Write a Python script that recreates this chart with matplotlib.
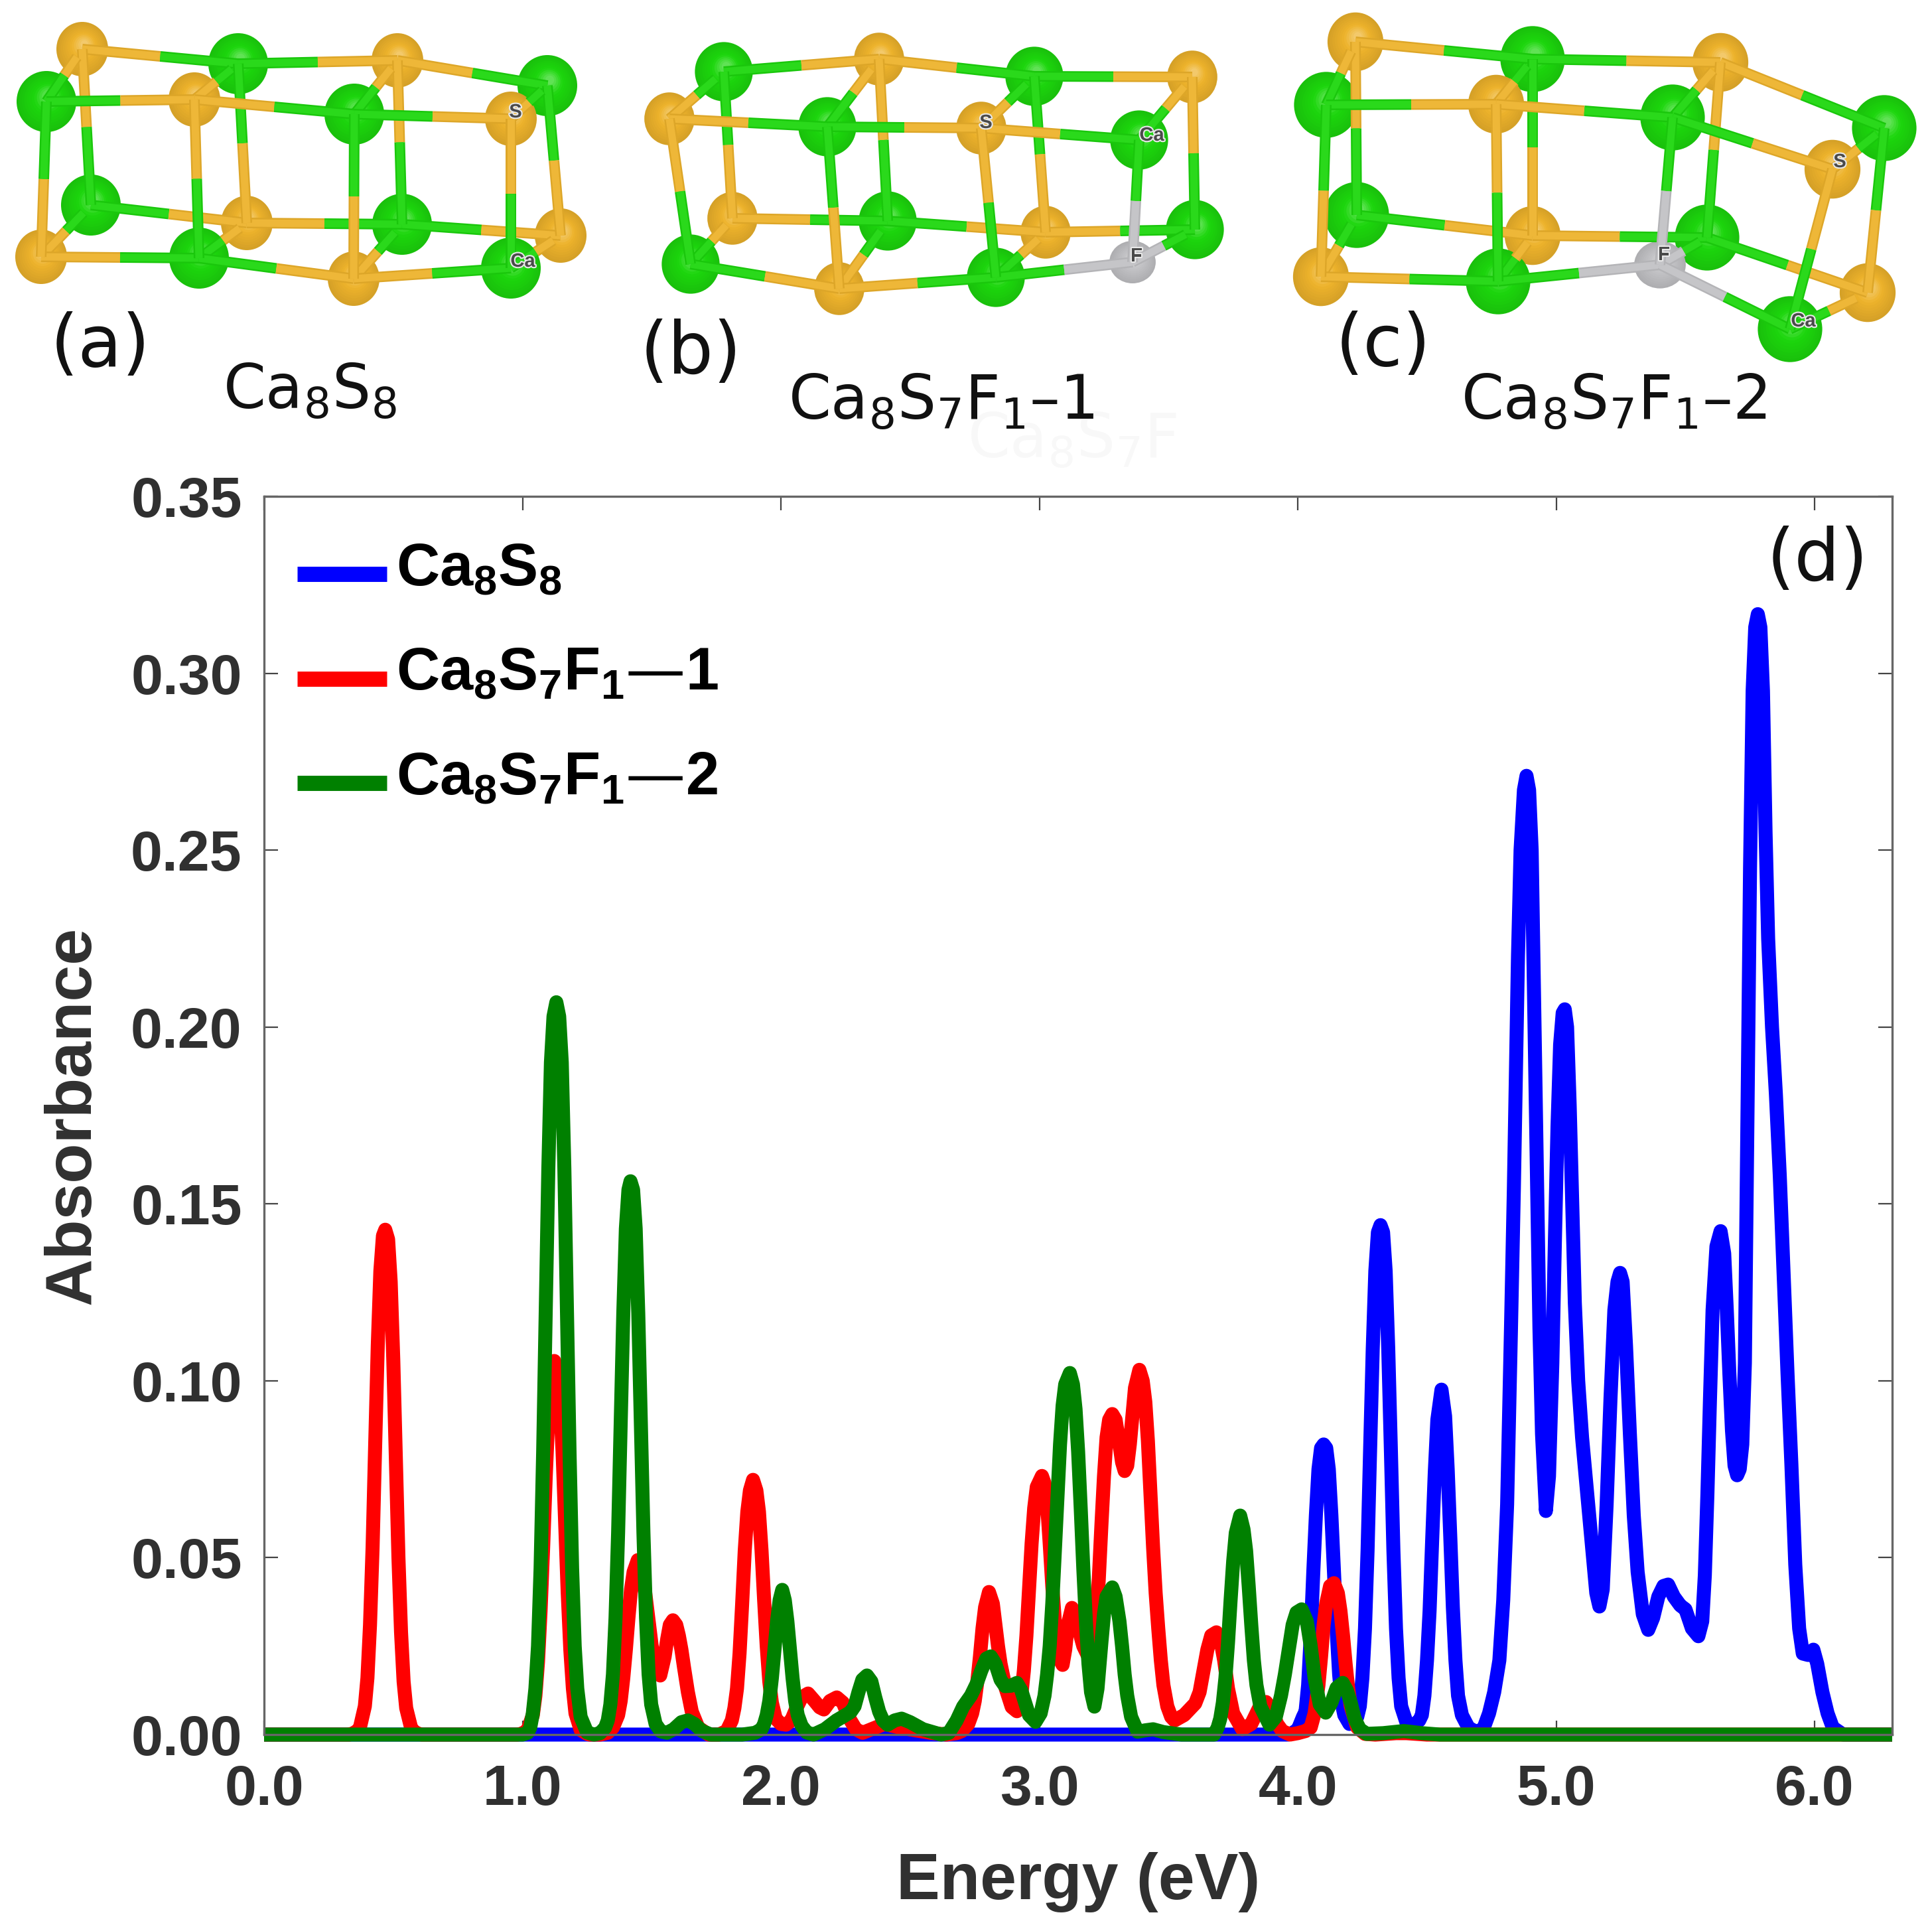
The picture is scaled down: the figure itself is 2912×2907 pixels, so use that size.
import matplotlib
matplotlib.use("Agg")
import matplotlib.pyplot as plt
from matplotlib.patches import Ellipse
from matplotlib.font_manager import FontProperties
import matplotlib.patheffects as pe

# ---- absorbance spectra, (energy, absorbance)
blue_pts = [(0, 0), (3.96, 0), (3.98, .0005), (4.00, .0014), (4.02, .005), (4.03, .0065), (4.04, .014), (4.05, .028), (4.06, .046), (4.07, .062),
            (4.08, .075), (4.09, .081), (4.10, .082), (4.11, .081), (4.12, .075), (4.13, .062), (4.14, .046), (4.15, .03), (4.16, .017), (4.17, .009),
            (4.18, .0055), (4.20, .003), (4.22, .0035), (4.23, .005), (4.24, .008), (4.25, .016), (4.26, .03), (4.27, .052), (4.28, .081), (4.29, .109),
            (4.30, .131), (4.31, .142), (4.32, .144), (4.33, .142), (4.34, .131), (4.35, .109), (4.36, .081), (4.37, .052), (4.38, .03), (4.39, .016),
            (4.40, .008), (4.42, .0035), (4.447, .0026), (4.47, .004), (4.48, .0055), (4.49, .011), (4.50, .021), (4.51, .035), (4.52, .055), (4.53, .074),
            (4.54, .089), (4.556, .0975), (4.57, .09), (4.58, .075), (4.59, .056), (4.60, .036), (4.61, .021), (4.62, .011), (4.635, .0055), (4.66, .002),
            (4.695, .0005), (4.72, .002), (4.74, .006), (4.76, .012), (4.78, .021), (4.795, .038), (4.81, .065), (4.825, .115), (4.836, .154), (4.852, .22),
            (4.862, .25), (4.875, .267), (4.885, .271), (4.895, .267), (4.905, .25), (4.915, .205), (4.925, .16), (4.935, .115), (4.945, .085), (4.96, .0632),
            (4.972, .073), (4.985, .105), (4.995, .14), (5.005, .172), (5.015, .195), (5.025, .204), (5.033, .205), (5.042, .2), (5.052, .178), (5.062, .15),
            (5.072, .122), (5.085, .1), (5.10, .084), (5.12, .068), (5.14, .052), (5.155, .04), (5.167, .0362), (5.18, .041), (5.195, .065), (5.21, .095),
            (5.225, .12), (5.237, .128), (5.247, .1305), (5.257, .128), (5.27, .11), (5.285, .085), (5.30, .062), (5.315, .046), (5.335, .034), (5.356, .0296),
            (5.375, .033), (5.395, .039), (5.415, .042), (5.433, .0424), (5.455, .039), (5.48, .0365), (5.50, .0354), (5.525, .03), (5.55, .0278), (5.565, .032),
            (5.575, .045), (5.585, .068), (5.595, .095), (5.605, .12), (5.62, .138), (5.636, .1423), (5.65, .136), (5.66, .12), (5.67, .102), (5.68, .086),
            (5.69, .076), (5.70, .0733), (5.71, .075), (5.72, .082), (5.73, .105), (5.74, .175), (5.75, .245), (5.76, .295), (5.77, .313), (5.78, .3167),
            (5.79, .313), (5.80, .295), (5.81, .255), (5.82, .225), (5.835, .2), (5.85, .181), (5.865, .158), (5.88, .13), (5.895, .102), (5.91, .0763),
            (5.925, .048), (5.94, .03), (5.954, .0229), (5.975, .0225), (5.995, .024), (6.01, .02), (6.03, .012), (6.05, .006), (6.07, .002), (6.11, 0), (6.3, 0)]

red_pts = [(0, 0), (.33, 0), (.35, .0005), (.37, .0017), (.39, .008), (.40, .016), (.41, .031), (.42, .053), (.43, .082), (.44, .11),
           (.45, .131), (.46, .141), (.469, .1427), (.48, .14), (.49, .128), (.50, .106), (.51, .078), (.52, .05), (.53, .029), (.54, .015),
           (.55, .0075), (.57, .0016), (.59, .0004), (.61, 0), (.98, 0), (1.0, .0003), (1.02, .0013), (1.04, .0055), (1.05, .011), (1.06, .0205),
           (1.07, .035), (1.08, .053), (1.09, .073), (1.10, .09), (1.11, .101), (1.123, .1056), (1.135, .103), (1.145, .095), (1.155, .08), (1.165, .06),
           (1.175, .04), (1.185, .024), (1.195, .013), (1.205, .006), (1.225, .0013), (1.25, .0002), (1.26, 0), (1.3, 0), (1.33, .0005), (1.35, .002),
           (1.37, .0055), (1.38, .0095), (1.39, .016), (1.40, .024), (1.41, .033), (1.42, .041), (1.43, .046), (1.446, .0493), (1.46, .047), (1.47, .043),
           (1.48, .037), (1.49, .031), (1.50, .025), (1.515, .019), (1.533, .0167), (1.55, .022), (1.56, .027), (1.57, .031), (1.582, .0323), (1.595, .031),
           (1.605, .028), (1.615, .024), (1.625, .019), (1.64, .012), (1.655, .0065), (1.68, .002), (1.72, 0), (1.76, 0), (1.79, .001), (1.81, .004),
           (1.82, .0075), (1.83, .013), (1.84, .023), (1.85, .037), (1.86, .052), (1.87, .063), (1.88, .069), (1.892, .072), (1.905, .069), (1.915, .063),
           (1.925, .052), (1.935, .038), (1.945, .025), (1.955, .015), (1.965, .009), (1.98, .0045), (2.0, .003), (2.02, .0028), (2.04, .004), (2.06, .0075),
           (2.08, .0105), (2.105, .0116), (2.13, .0095), (2.15, .0077), (2.166, .0071), (2.19, .0095), (2.216, .0105), (2.24, .009), (2.265, .0045), (2.29, .0015),
           (2.316, .0005), (2.35, .0015), (2.40, .003), (2.46, .002), (2.52, .0012), (2.58, .0005), (2.64, 0), (2.68, .0004), (2.70, .001), (2.725, .003),
           (2.74, .006), (2.75, .0095), (2.76, .015), (2.77, .022), (2.78, .03), (2.79, .036), (2.805, .0403), (2.82, .037), (2.83, .031), (2.84, .025),
           (2.85, .02), (2.87, .013), (2.893, .0078), (2.913, .0066), (2.93, .011), (2.94, .018), (2.95, .028), (2.96, .041), (2.97, .054), (2.98, .064),
           (2.99, .07), (3.01, .0731), (3.02, .071), (3.03, .065), (3.04, .054), (3.05, .042), (3.06, .032), (3.07, .025), (3.08, .021), (3.09, .0197),
           (3.10, .024), (3.11, .031), (3.126, .0358), (3.14, .034), (3.155, .029), (3.17, .025), (3.19, .022), (3.205, .023), (3.22, .032), (3.23, .044),
           (3.24, .059), (3.25, .073), (3.26, .084), (3.27, .089), (3.282, .0906), (3.295, .089), (3.31, .082), (3.32, .077), (3.33, .0745), (3.34, .076),
           (3.35, .082), (3.36, .09), (3.37, .098), (3.387, .1031), (3.40, .1), (3.41, .094), (3.42, .083), (3.43, .068), (3.44, .053), (3.45, .04),
           (3.46, .03), (3.47, .021), (3.48, .014), (3.495, .008), (3.51, .005), (3.523, .004), (3.56, .0055), (3.603, .0088), (3.62, .012), (3.635, .018),
           (3.65, .024), (3.665, .028), (3.685, .0289), (3.70, .027), (3.715, .021), (3.73, .013), (3.75, .006), (3.785, .0015), (3.82, .003), (3.85, .0075),
           (3.877, .0092), (3.90, .007), (3.92, .003), (3.94, .001), (3.97, 0), (4.0, .0004), (4.03, .001), (4.05, .002), (4.065, .006), (4.08, .014),
           (4.09, .022), (4.10, .031), (4.11, .037), (4.125, .042), (4.14, .0428), (4.155, .04), (4.165, .035), (4.175, .028), (4.185, .02), (4.195, .013),
           (4.205, .008), (4.23, .002), (4.26, .0002), (4.3, 0), (4.38, .0004), (4.42, .0004), (4.5, 0), (6.3, 0)]

green_pts = [(0, 0), (1.0, 0), (1.02, .0005), (1.03, .002), (1.04, .006), (1.05, .013), (1.06, .025), (1.07, .047), (1.08, .08), (1.09, .12),
             (1.10, .16), (1.11, .19), (1.12, .203), (1.131, .207), (1.142, .203), (1.152, .19), (1.162, .16), (1.172, .12), (1.182, .08), (1.192, .047),
             (1.202, .025), (1.212, .013), (1.225, .005), (1.25, .0006), (1.277, 0), (1.30, .0004), (1.32, .002), (1.33, .004), (1.34, .0085), (1.35, .017),
             (1.36, .033), (1.37, .057), (1.38, .088), (1.39, .119), (1.40, .143), (1.41, .154), (1.418, .1564), (1.428, .154), (1.438, .143), (1.448, .119),
             (1.458, .088), (1.468, .057), (1.478, .033), (1.488, .017), (1.498, .0085), (1.515, .003), (1.535, .0009), (1.559, .0005), (1.585, .0015), (1.615, .0035),
             (1.64, .004), (1.665, .003), (1.695, .001), (1.73, 0), (1.85, 0), (1.90, .0005), (1.925, .0015), (1.935, .003), (1.945, .0055), (1.955, .0095),
             (1.965, .016), (1.975, .024), (1.985, .032), (1.995, .038), (2.005, .0409), (2.015, .038), (2.025, .032), (2.035, .024), (2.045, .016), (2.055, .0095),
             (2.065, .0055), (2.08, .0025), (2.10, .0006), (2.126, 0), (2.17, .0015), (2.215, .004), (2.25, .0055), (2.27, .0064), (2.285, .008), (2.30, .012),
             (2.315, .0155), (2.333, .0167), (2.35, .015), (2.365, .0105), (2.38, .0065), (2.395, .004), (2.413, .0028), (2.44, .004), (2.467, .0045), (2.50, .0035),
             (2.55, .0015), (2.62, 0), (2.65, .0005), (2.68, .004), (2.705, .0079), (2.735, .011), (2.757, .0143), (2.775, .018), (2.795, .0215), (2.812, .0221),
             (2.83, .02), (2.85, .0155), (2.867, .0137), (2.89, .0138), (2.913, .0146), (2.93, .0125), (2.945, .009), (2.96, .0055), (2.985, .0036), (3.005, .006),
             (3.02, .011), (3.03, .017), (3.04, .025), (3.05, .037), (3.06, .052), (3.07, .067), (3.08, .082), (3.09, .093), (3.10, .099), (3.118, .1022),
             (3.13, .099), (3.14, .092), (3.15, .08), (3.16, .064), (3.17, .047), (3.18, .032), (3.19, .02), (3.20, .012), (3.213, .0079), (3.225, .013),
             (3.24, .026), (3.25, .034), (3.26, .039), (3.282, .0416), (3.295, .039), (3.31, .032), (3.32, .025), (3.33, .017), (3.34, .011), (3.355, .005),
             (3.38, .0008), (3.41, .0012), (3.44, .0015), (3.48, .0007), (3.55, 0), (3.676, 0), (3.69, .002), (3.70, .0045), (3.71, .009), (3.72, .016),
             (3.73, .026), (3.74, .038), (3.75, .049), (3.76, .057), (3.777, .0619), (3.79, .058), (3.80, .052), (3.81, .042), (3.82, .031), (3.83, .021),
             (3.84, .014), (3.855, .008), (3.89, .0028), (3.915, .005), (3.935, .011), (3.95, .017), (3.965, .024), (3.98, .031), (3.995, .0345), (4.015, .0354),
             (4.035, .032), (4.05, .025), (4.065, .016), (4.085, .0085), (4.108, .0062), (4.13, .009), (4.15, .0132), (4.174, .0146), (4.19, .0125), (4.205, .009),
             (4.22, .0045), (4.24, .0015), (4.267, .0002), (4.33, .0004), (4.41, .001), (4.48, .0004), (4.55, 0), (6.3, 0)]

series_names = [r"$\mathregular{Ca_8S_8}$", r"$\mathregular{Ca_8S_7F_1}$—1", r"$\mathregular{Ca_8S_7F_1}$—2"]
x_ticks = [0, 1, 2, 3, 4, 5, 6]
x_labels = ["0.0", "1.0", "2.0", "3.0", "4.0", "5.0", "6.0"]
y_ticks = [0, 0.05, 0.10, 0.15, 0.20, 0.25, 0.30, 0.35]
y_labels = ["0.00", "0.05", "0.10", "0.15", "0.20", "0.25", "0.30", "0.35"]

# ---- the three clusters, atoms in picture pixels:
# top back row, top front row, bottom back row, bottom front row
a_x = [124, 359, 599, 825, 70, 293, 534, 770, 137, 372, 606, 845, 62, 300, 533, 770]
a_y = [74, 96, 91, 129, 153, 150, 172, 179, 309, 336, 338, 355, 387, 389, 420, 404]
a_el = ["S", "Ca", "S", "Ca", "Ca", "S", "Ca", "S", "Ca", "S", "Ca", "S", "S", "Ca", "S", "Ca"]
b_x = [1091, 1325, 1559, 1797, 1009, 1247, 1479, 1717, 1104, 1338, 1576, 1801, 1041, 1265, 1501, 1707]
b_y = [108, 89, 115, 116, 179, 191, 193, 211, 329, 333, 350, 346, 398, 435, 418, 395]
b_el = ["Ca", "S", "Ca", "S", "S", "Ca", "S", "Ca", "S", "Ca", "S", "Ca", "Ca", "S", "Ca", "F"]
c_x = [2043, 2310, 2593, 2840, 1999, 2255, 2521, 2762, 2045, 2310, 2573, 2815, 1991, 2258, 2502, 2698]
c_y = [63, 89, 94, 193, 158, 157, 177, 255, 324, 355, 358, 441, 417, 424, 399, 496]
c_el = ["S", "Ca", "S", "Ca", "Ca", "S", "Ca", "S", "Ca", "S", "Ca", "S", "S", "Ca", "F", "Ca"]

back_bonds = [(0, 1), (1, 2), (2, 3), (8, 9), (9, 10), (10, 11), (0, 8), (1, 9), (2, 10), (3, 11)]
back_atoms = [0, 1, 2, 3, 8, 9, 10, 11]
across_bonds = [(0, 4), (1, 5), (2, 6), (3, 7), (8, 12), (9, 13), (10, 14), (11, 15)]
front_bonds = [(4, 5), (5, 6), (6, 7), (12, 13), (13, 14), (14, 15), (4, 12), (5, 13), (6, 14), (7, 15)]
front_atoms = [4, 5, 6, 7, 12, 13, 14, 15]

el_color = {"Ca": (0.11, 0.84, 0.05), "S": (0.93, 0.70, 0.17), "F": (0.76, 0.76, 0.77)}
el_radius = {"Ca": (45, 46), "S": (39, 41), "F": (36, 33)}

atom_labels = [("S", 777, 169), ("Ca", 788, 394), ("S", 1486, 185), ("Ca", 1736, 204), ("F", 1713, 386),
               ("S", 2773, 244), ("Ca", 2718, 484), ("F", 2508, 384)]


def shade(col, f):
    # f<0 goes darker, f>0 goes to white
    if f < 0:
        return tuple(c * (1 + f) for c in col)
    return tuple(c + (1 - c) * f for c in col)


def draw_bond(ax, x1, y1, x2, y2, el1, el2, trim=0.0):
    # trim shortens the start, for bonds that end inside a back atom
    x1 = x1 + (x2 - x1) * trim
    y1 = y1 + (y2 - y1) * trim
    xm = x1 + (x2 - x1) * (0.5 - trim) / (1 - trim)
    ym = y1 + (y2 - y1) * (0.5 - trim) / (1 - trim)
    for xs, ys, el in [([x1, xm], [y1, ym], el1), ([xm, x2], [ym, y2], el2)]:
        ax.plot(xs, ys, color=shade(el_color[el], -0.07), lw=11.5, solid_capstyle="butt")
        ax.plot(xs, ys, color=shade(el_color[el], 0.06), lw=8, solid_capstyle="butt")


def draw_atom(ax, x, y, el, scale):
    rx, ry = el_radius[el]
    rx *= scale
    ry *= scale
    col = el_color[el]
    steps = 12
    for i in range(steps):
        f = i / (steps - 1)
        tone = -0.1 + 0.1 * f / 0.6 if f < 0.6 else (f - 0.6) * 0.75
        ax.add_patch(Ellipse((x + 0.08 * rx * f, y - 0.18 * ry * f), 2 * rx * (1 - 0.85 * f), 2 * ry * (1 - 0.85 * f),
                             color=shade(col, tone), lw=0))


def draw_cluster(ax, xs, ys, els, scale):
    for i, j in back_bonds:
        draw_bond(ax, xs[i], ys[i], xs[j], ys[j], els[i], els[j])
    for i in back_atoms:
        draw_atom(ax, xs[i], ys[i], els[i], scale)
    for i, j in across_bonds:
        draw_bond(ax, xs[i], ys[i], xs[j], ys[j], els[i], els[j], trim=0.15)
    for i, j in front_bonds:
        draw_bond(ax, xs[i], ys[i], xs[j], ys[j], els[i], els[j])
    for i in front_atoms:
        draw_atom(ax, xs[i], ys[i], els[i], scale)


fig = plt.figure(figsize=(29.12, 29.07), dpi=100)
W, H = 2912.0, 2907.0

# cluster pictures in an overlay working in image pixels
top = fig.add_axes([0, 0, 1, 1])
top.set_xlim(0, W)
top.set_ylim(H, 0)
top.axis("off")
draw_cluster(top, a_x, a_y, a_el, 1.0)
draw_cluster(top, b_x, b_y, b_el, 0.97)
draw_cluster(top, c_x, c_y, c_el, 1.08)

for txt, x, y in atom_labels:
    top.text(x, y, txt, fontsize=21, fontweight="bold", family="Liberation Sans", color="#4a4a4a",
             ha="center", va="center", path_effects=[pe.withStroke(linewidth=3, foreground="#e8e8e8")])

cap_font = "DejaVu Sans"
top.text(151, 522, "(a)", fontsize=78, family=cap_font, ha="center", va="center", color="#111111")
top.text(1041, 533, "(b)", fontsize=78, family=cap_font, ha="center", va="center", color="#111111")
top.text(2085, 521, "(c)", fontsize=78, family=cap_font, ha="center", va="center", color="#111111")
top.text(336, 616, r"$\mathregular{Ca_8S_8}$", fontsize=66, family=cap_font, va="baseline", color="#111111")
top.text(1188, 632, r"$\mathregular{Ca_8S_7F_1}$–1", fontsize=66, family=cap_font, va="baseline", color="#111111")
top.text(2202, 632, r"$\mathregular{Ca_8S_7F_1}$–2", fontsize=66, family=cap_font, va="baseline", color="#111111")
top.text(1458, 690, r"$\mathregular{Ca_8S_7F}$", fontsize=66, family=cap_font, va="baseline", color="#f8f8f8", zorder=0)

# ---- main spectrum panel
left, right, upper, lower = 398, 2852, 748, 2614
ax = fig.add_axes([left / W, 1 - lower / H, (right - left) / W, (lower - upper) / H])
ax.patch.set_alpha(0)

lw = 15.2
for pts, col, name in [(blue_pts, "#0000ff", series_names[0]), (red_pts, "#ff0000", series_names[1]), (green_pts, "#008000", series_names[2])]:
    xs, ys = zip(*pts)
    ax.plot(xs, ys, color=col, lw=lw, clip_on=False, solid_capstyle="butt", solid_joinstyle="round", label=name)

ax.set_xlim(0, 6.3)
ax.set_ylim(0, 0.35)
ax.set_xticks(x_ticks)
ax.set_xticklabels(x_labels)
ax.set_yticks(y_ticks)
ax.set_yticklabels(y_labels)

tick_font = FontProperties(family="Liberation Sans", weight="bold", size=62)
for lab in ax.get_xticklabels() + ax.get_yticklabels():
    lab.set_fontproperties(tick_font)
    lab.set_color("#303030")
ax.tick_params(axis="both", direction="in", length=15, width=1.6, color="#444444", top=True, right=True)
ax.tick_params(axis="x", pad=32)
ax.tick_params(axis="y", pad=24)
for s in ax.spines.values():
    s.set_color("#666666")
    s.set_linewidth(2.4)

label_font = FontProperties(family="Liberation Sans", weight="bold", size=71)
ax.set_xlabel("Energy (eV)", fontproperties=label_font, color="#303030")
ax.set_ylabel("Absorbance", fontproperties=label_font, color="#303030")
ax.xaxis.set_label_coords(0.5, -0.095)
ax.yaxis.set_label_coords(-0.099, 0.5)

leg = ax.legend(loc="upper left", bbox_to_anchor=(0.0, 0.990), frameon=False,
                prop=FontProperties(family="Liberation Sans", weight="bold", size=65),
                handlelength=1.5, handletextpad=0.15, labelspacing=0.8, borderaxespad=0.3, borderpad=0.25)
for h in leg.get_lines():
    h.set_linewidth(16.5)
    # swatches sit lower than the text in the original
    h.set_ydata([v - 10.5 for v in h.get_ydata()])

ax.text(2739, 845, "(d)", fontsize=78, family=cap_font, ha="center", va="center", color="#111111",
        transform=top.transData)

fig.savefig("out.png", dpi=100)
